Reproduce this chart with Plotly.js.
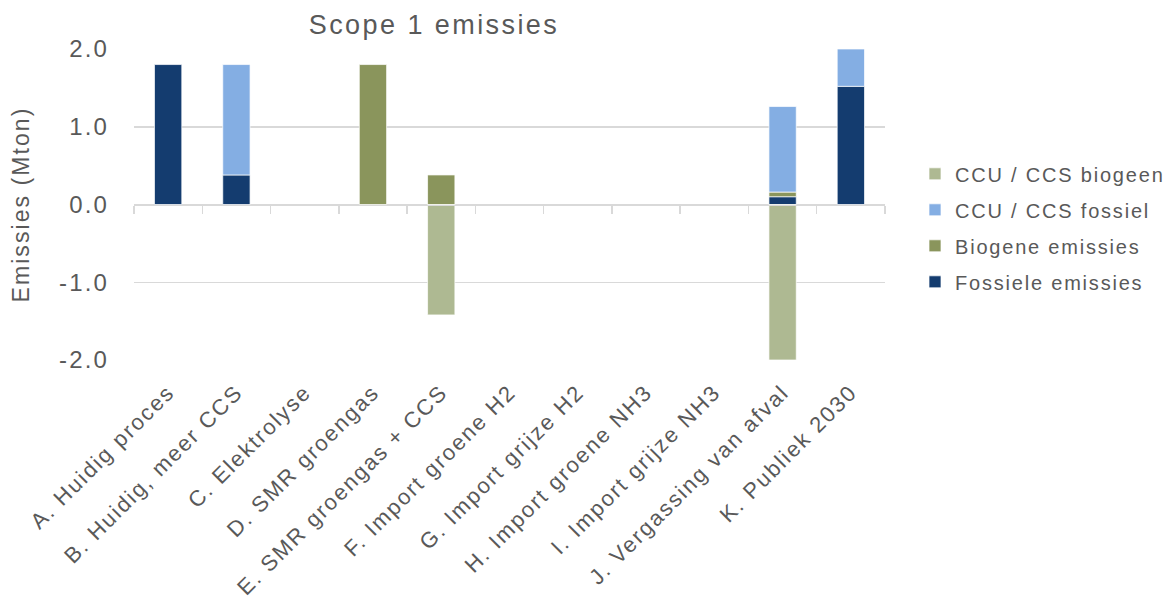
<!DOCTYPE html>
<html><head><meta charset="utf-8">
<script src="https://cdn.plot.ly/plotly-3.0.1.min.js"></script>
<style>html,body{margin:0;padding:0;background:#fff}#chart{width:1166px;height:604px}
text{letter-spacing:0.09em}</style>
</head><body><div id="chart"></div>
<script>
const categories = ["A. Huidig proces","B. Huidig, meer CCS","C. Elektrolyse","D. SMR groengas","E. SMR groengas + CCS","F. Import groene H2","G. Import grijze H2","H. Import groene NH3","I. Import grijze NH3","J. Vergassing van afval","K. Publiek 2030"];
const fossieleEmissies = [1.80, 0.38, 0, 0, 0, 0, 0, 0, 0, 0.10, 1.52];
const biogeneEmissies  = [0, 0, 0, 1.80, 0.38, 0, 0, 0, 0, 0.06, 0];
const ccuFossiel       = [0, 1.42, 0, 0, 0, 0, 0, 0, 0, 1.10, 0.48];
const ccuBiogeen       = [0, 0, 0, 0, -1.42, 0, 0, 0, 0, -2.00, 0];
const yTicks = [-2, -1, 0, 1, 2];
const yTickText = ["-2.0","-1.0","0.0","1.0","2.0"];

const FONT = "Liberation Sans, Arial, sans-serif";
const TXT = "#595959";
const edge = {color:"rgba(255,255,255,0.7)", width:1};
function tr(name, y, color, rank){
  return {type:"bar", name:name, legendgroup:name, legendrank:rank, x:categories, y:y.map(v => v === 0 ? null : v),
          marker:{color:color, line:edge}, hoverinfo:"skip"};
}
const data = [
  tr("Fossiele emissies", fossieleEmissies, "#143C6F", 4),
  tr("Biogene emissies", biogeneEmissies, "#8A955C", 3),
  tr("CCU / CCS fossiel", ccuFossiel, "#84AEE3", 2),
  tr("CCU / CCS biogeen", ccuBiogeen, "#AEB992", 1),
  {type:"bar", x:categories, y:categories.map(()=>null), xaxis:"x2", showlegend:false, hoverinfo:"skip", marker:{color:"rgba(0,0,0,0)"}}
];
const layout = {
  width:1166, height:604,
  margin:{l:134, r:281, t:49, b:244, autoexpand:false},
  paper_bgcolor:"#fff", plot_bgcolor:"#fff",
  barmode:"relative", bargap:0.6,
  font:{family:FONT, color:TXT, size:22},
  title:{text:"Scope 1 emissies", x:434/1166, xref:"container", xanchor:"center", y:1-25/604, yref:"container", yanchor:"middle", font:{size:27, color:TXT, family:FONT}},
  xaxis:{type:"category", range:[-0.5,10.5], tickangle:-45, showgrid:false, showline:false, zeroline:false, ticks:"", ticklabelstandoff:14, tickfont:{size:22, color:TXT}, automargin:false},
  xaxis2:{type:"category", overlaying:"x", matches:"x", anchor:"free", position:0.5, side:"bottom", showline:true, linecolor:"#d9d9d9", linewidth:1.5, ticks:"outside", tickson:"boundaries", ticklen:8, tickcolor:"#d9d9d9", tickwidth:1.5, showticklabels:false, showgrid:false, zeroline:false},
  yaxis:{range:[-2,2], tickvals:yTicks, ticktext:yTickText, showgrid:true, gridcolor:"#d9d9d9", gridwidth:1.5, zeroline:false, showline:false, ticks:"", ticklabelstandoff:24, tickfont:{size:24, color:TXT}, automargin:false,
         title:{text:"Emissies (Mton)", font:{size:23, color:TXT}, standoff:22}},
  legend:{x:915/1166, xref:"container", xanchor:"left", y:0.425, yanchor:"middle", traceorder:"grouped", tracegroupgap:7, font:{size:20, color:TXT}, itemwidth:30, bgcolor:"rgba(0,0,0,0)"},
  showlegend:true
};
Plotly.newPlot("chart", data, layout, {staticPlot:true});
</script></body></html>
